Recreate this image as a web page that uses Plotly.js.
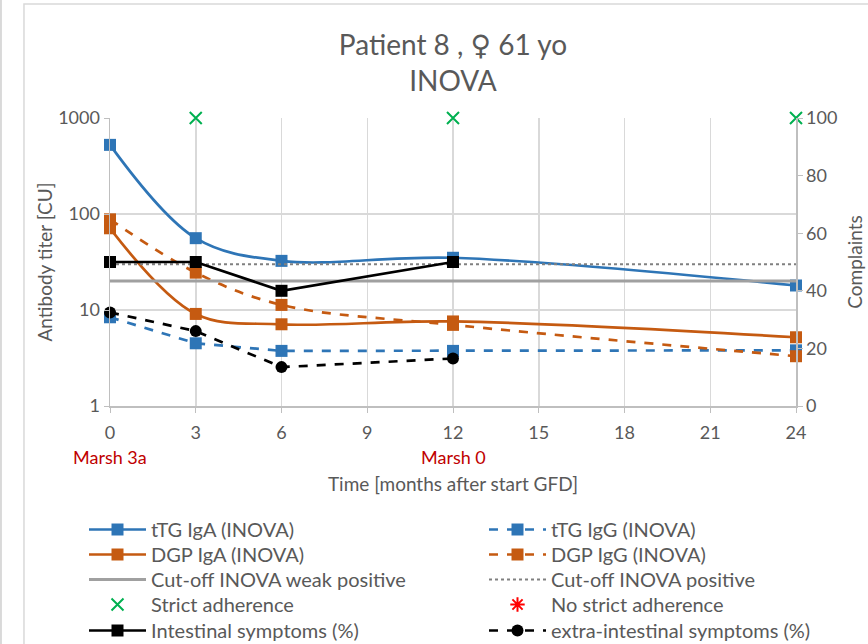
<!DOCTYPE html>
<html>
<head>
<meta charset="utf-8">
<script src="https://cdn.plot.ly/plotly-3.0.1.min.js"></script>
<style>html,body{margin:0;padding:0;background:#fff;}#chart{width:868px;height:644px;}</style>
</head>
<body>
<div id="chart"></div>
<script>
// ---- data ----
const months = [0, 3, 6, 12, 24];
const tTGIgA = [525, 56, 32.5, 35, 18];
const tTGIgG = [8.4, 4.5, 3.75, 3.75, 3.8];
const DGPIgA = [71, 9.1, 7.1, 7.6, 5.2];
const DGPIgG = [88, 24.5, 11.3, 7.0, 3.3];
const cutX = [0, 24];
const cutWeak = [20, 20];
const cutPos = [30, 30];
const strictX = [3, 12, 24];
const strictY = [100, 100, 100];
const noStrictX = [null];
const noStrictY = [null];
const sympMonths = [0, 3, 6, 12];
const intestinal = [50, 50, 40, 50];
const extraIntestinal = [32.5, 26, 13.5, 16.5];
const marshX = [0, 12];
const marshLabels = ["Marsh 3a", "Marsh 0"];
const yTickVals = [1, 10, 100, 1000];
const yTickText = ["1", "10", "100", "1000"];
const xTickVals = [0, 3, 6, 9, 12, 15, 18, 21, 24];

const FONT = "Lato, 'Open Sans', sans-serif";
const GREY = "#595959";
const BLUE = "#2E75B6";
const ORANGE = "#C55A11";
const MS = 12;

const traces = [
  {name: "tTG IgA (INOVA)", x: months, y: tTGIgA, mode: "lines+markers",
   line: {color: BLUE, width: 2.7, shape: "spline"}, marker: {symbol: "square", size: MS, color: BLUE}},
  {name: "tTG IgG (INOVA)", x: months, y: tTGIgG, mode: "lines+markers",
   line: {color: BLUE, width: 2.7, dash: "dash"}, marker: {symbol: "square", size: MS, color: BLUE}},
  {name: "DGP IgA (INOVA)", x: months, y: DGPIgA, mode: "lines+markers",
   line: {color: ORANGE, width: 2.7, shape: "spline"}, marker: {symbol: "square", size: MS, color: ORANGE}},
  {name: "DGP IgG (INOVA)", x: months, y: DGPIgG, mode: "lines+markers",
   line: {color: ORANGE, width: 2.7, dash: "dash", shape: "spline"}, marker: {symbol: "square", size: MS, color: ORANGE}},
  {name: "Cut-off INOVA weak positive", x: cutX, y: cutWeak, mode: "lines",
   line: {color: "#A0A0A0", width: 3}},
  {name: "Cut-off INOVA positive", x: cutX, y: cutPos, mode: "lines",
   line: {color: "#808080", width: 2, dash: "dot"}},
  {name: "Strict adherence", x: strictX, y: strictY, yaxis: "y2", mode: "markers",
   marker: {symbol: "x-thin-open", size: 12, color: "#00B050", line: {color: "#00B050", width: 2}}},
  {name: "No strict adherence", x: noStrictX, y: noStrictY, yaxis: "y2", mode: "markers",
   marker: {symbol: "asterisk-open", size: 12, color: "#FF0000", line: {color: "#FF0000", width: 2}}},
  {name: "Intestinal symptoms (%)", x: sympMonths, y: intestinal, yaxis: "y2", mode: "lines+markers",
   line: {color: "#000", width: 2.7}, marker: {symbol: "square", size: MS, color: "#000"}},
  {name: "extra-intestinal symptoms (%)", x: sympMonths, y: extraIntestinal, yaxis: "y2", mode: "lines+markers",
   line: {color: "#000", width: 2.7, dash: "dash"}, marker: {symbol: "circle", size: MS, color: "#000"}}
];
traces.forEach(t => { t.cliponaxis = false; });

// legend grid: 2 columns x 5 rows, one legend per entry
const plotTop = 118, plotBottom = 406, plotH = plotBottom - plotTop;
const plotLeft = 110, plotW = 686;
const rowCenters = [530, 555, 580, 605, 631];
const colLeft = [84, 484];
const layoutLegends = {};
traces.forEach((t, i) => {
  const id = i === 0 ? "legend" : "legend" + (i + 1);
  t.legend = id;
  const row = Math.floor(i / 2), col = i % 2;
  layoutLegends[id] = {
    orientation: "v", xanchor: "left", yanchor: "top",
    x: (colLeft[col] - plotLeft) / plotW,
    y: (plotBottom - (rowCenters[row] - 20)) / plotH,
    font: {size: 20, color: GREY, family: FONT}, itemwidth: 57,
    bgcolor: "rgba(0,0,0,0)"
  };
});

const layout = Object.assign({
  width: 868, height: 644,
  margin: {l: 110, r: 72, t: 118, b: 238, autoexpand: false},
  paper_bgcolor: "#fff", plot_bgcolor: "#fff",
  font: {family: FONT, color: GREY, size: 18},
  title: {text: "Patient 8 , <span style=\"font-family:'DejaVu Sans'\">♀</span> 61 yo<br>INOVA",
          font: {size: 28, color: GREY, family: FONT},
          x: 0.5, xref: "paper", y: 1 - 55/644, yref: "container", yanchor: "top"},
  showlegend: true,
  xaxis: {range: [0, 24], tickvals: xTickVals, showgrid: true, gridcolor: "#D9D9D9", gridwidth: 1.5,
          showline: true, linecolor: "#BFBFBF", linewidth: 1.5, ticks: "outside", ticklen: 5,
          tickcolor: "#BFBFBF", tickfont: {size: 18, color: GREY}, zeroline: false, ticklabelstandoff: 5,
          title: {text: "Time [months after start GFD]", font: {size: 19, color: GREY}, standoff: 35}},
  yaxis: {type: "log", range: [0, 3], tickvals: yTickVals, ticktext: yTickText,
          showgrid: true, gridcolor: "#D9D9D9", gridwidth: 1.5, showline: true, linecolor: "#BFBFBF",
          linewidth: 1.5, ticks: "outside", ticklen: 5, tickcolor: "#BFBFBF",
          tickfont: {size: 18, color: GREY}, zeroline: false,
          title: {text: "Antibody titer [CU]", font: {size: 19, color: GREY}, standoff: 0}},
  yaxis2: {range: [0, 100], dtick: 20, overlaying: "y", side: "right", showgrid: false,
           showline: true, linecolor: "#BFBFBF", linewidth: 1.5, ticks: "outside", ticklen: 5,
           tickcolor: "#BFBFBF", tickfont: {size: 18, color: GREY}, zeroline: false,
           title: {text: "Complaints", font: {size: 19, color: GREY}, standoff: 12}},
  annotations: marshX.map((mx, i) => ({x: mx, y: -0.177, xref: "x", yref: "paper", text: marshLabels[i],
     showarrow: false, font: {size: 18, color: "#C00000", family: FONT}, xanchor: "center", yanchor: "middle"})),
  shapes: [
    {type: "rect", xref: "paper", yref: "paper", x0: -0.1254, x1: 1.3, y0: -1.0, y1: 1.396,
     line: {color: "#D9D9D9", width: 1.5}, fillcolor: "rgba(0,0,0,0)", layer: "below"},
    {type: "line", xref: "paper", yref: "paper", x0: -0.159, x1: -0.159, y0: -1.0, y1: 1.5,
     line: {color: "#D9D9D9", width: 2}}
  ]
}, layoutLegends);

Plotly.newPlot("chart", traces, layout, {displayModeBar: false, staticPlot: true});
</script>
</body>
</html>
